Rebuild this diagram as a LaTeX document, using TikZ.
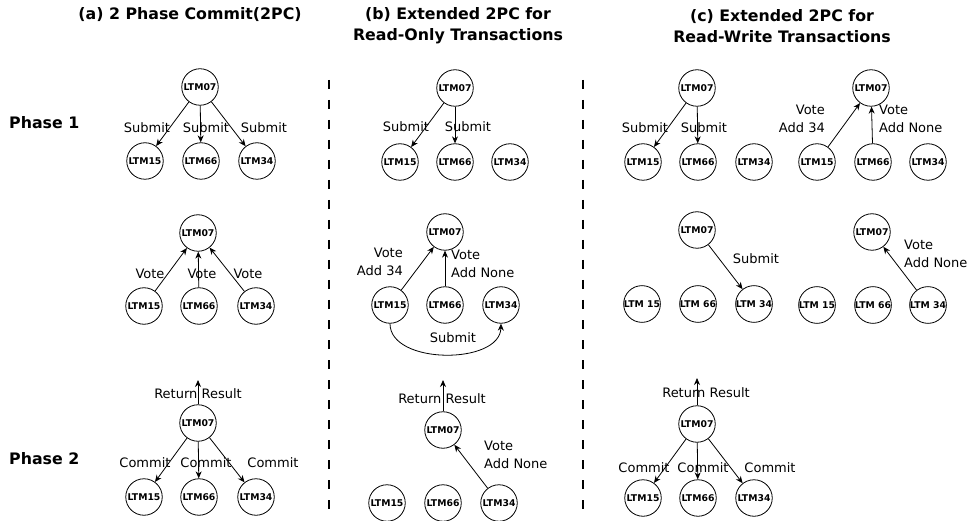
\documentclass[tikz,border=0pt]{standalone}
\usepackage{fontspec}
\setmainfont{DejaVu Sans}
\usetikzlibrary{arrows.meta}
\tikzset{
  ltm/.style={circle, draw, line width=0.8pt, minimum size=36.5pt, inner sep=0pt, font=\fontsize{9.3}{10}\selectfont\bfseries},
  arr/.style={-{Stealth[length=7pt,width=6pt]}, line width=0.8pt},
  lbl/.style={inner sep=0pt, font=\fontsize{13}{18}\selectfont},
  ttl/.style={inner sep=0pt, align=center, font=\fontsize{15.8}{21}\selectfont\bfseries},
  sep/.style={line width=2.2pt, dash pattern=on 9pt off 11pt}
}
\begin{document}
\begin{tikzpicture}[x=1pt,y=-1pt]
\useasboundingbox (0,0) rectangle (969,521);
% titles
\node[ttl] (ta) at (190,15) {(a) 2 Phase Commit(2PC)};
\node[ttl] (tb) at (458,26) {(b) Extended 2PC for\\Read-Only Transactions};
\node[ttl] (tc) at (782,26) {(c) Extended 2PC for\\Read-Write Transactions};
\node[ttl, anchor=west] (p1) at (9,123) {Phase 1};
\node[ttl, anchor=west] (p2) at (9,459) {Phase 2};
% separators
\coordinate (s1t) at (329,80); \coordinate (s1b) at (329,512);
\coordinate (s2t) at (583,80); \coordinate (s2b) at (583,512);
\draw[sep] (s1t) -- (s1b);
\draw[sep] (s2t) -- (s2b);

% ===== (a) row 1
\node[ltm] (a1t) at (200,87) {LTM07};
\node[ltm] (a1a) at (145,161) {LTM15};
\node[ltm] (a1b) at (201,161) {LTM66};
\node[ltm] (a1c) at (257,161) {LTM34};
\node[lbl] (a1la) at (147,128) {Submit};
\node[lbl] (a1lb) at (206,128) {Submit};
\node[lbl] (a1lc) at (264,128) {Submit};
\draw[arr] (a1t) -- (a1a);
\draw[arr] (a1t) -- (a1b);
\draw[arr] (a1t) -- (a1c);
% ===== (a) row 2
\node[ltm] (a2t) at (198,233) {LTM07};
\node[ltm] (a2a) at (144,306) {LTM15};
\node[ltm] (a2b) at (199,306) {LTM66};
\node[ltm] (a2c) at (256,306) {LTM34};
\node[lbl] (a2la) at (150,274) {Vote};
\node[lbl] (a2lb) at (202,274) {Vote};
\node[lbl] (a2lc) at (248,274) {Vote};
\draw[arr] (a2a) -- (a2t);
\draw[arr] (a2b) -- (a2t);
\draw[arr] (a2c) -- (a2t);
% ===== (a) row 3
\node[ltm] (a3t) at (198,423) {LTM07};
\node[ltm] (a3a) at (144,497) {LTM15};
\node[ltm] (a3b) at (199,497) {LTM66};
\node[ltm] (a3c) at (256,497) {LTM34};
\coordinate (a3up) at (198,380);
\node[lbl] (a3r) at (198,394) {Return Result};
\node[lbl] (a3la) at (145,463) {Commit};
\node[lbl] (a3lb) at (206,463) {Commit};
\node[lbl] (a3lc) at (273,463) {Commit};
\draw[arr] (a3t) -- (a3up);
\draw[arr] (a3t) -- (a3a);
\draw[arr] (a3t) -- (a3b);
\draw[arr] (a3t) -- (a3c);

% ===== (b) row 1
\node[ltm] (b1t) at (455,88) {LTM07};
\node[ltm] (b1a) at (400,162) {LTM15};
\node[ltm] (b1b) at (455,162) {LTM66};
\node[ltm] (b1c) at (510,162) {LTM34};
\node[lbl] (b1la) at (406,127) {Submit};
\node[lbl] (b1lb) at (468,127) {Submit};
\draw[arr] (b1t) -- (b1a);
\draw[arr] (b1t) -- (b1b);
% ===== (b) row 2
\node[ltm] (b2t) at (445,232) {LTM07};
\node[ltm] (b2a) at (390,305) {LTM15};
\node[ltm] (b2b) at (445,305) {LTM66};
\node[ltm] (b2c) at (501,305) {LTM34};
\node[lbl, align=right, anchor=east] (b2la) at (403,262) {Vote\\Add 34};
\node[lbl, align=left, anchor=west] (b2lb) at (451,264) {Vote\\Add None};
\node[lbl] (b2lc) at (453,338) {Submit};
\draw[arr] (b2a) -- (b2t);
\draw[arr] (b2b) -- (b2t);
\draw[arr] (b2a.south) .. controls (390,365) and (500,365) .. (b2c.south);
% ===== (b) row 3
\node[ltm] (b3t) at (443,430) {LTM07};
\node[ltm] (b3a) at (387,503) {LTM15};
\node[ltm] (b3b) at (443,503) {LTM66};
\node[ltm] (b3c) at (499,503) {LTM34};
\coordinate (b3up) at (443,380);
\node[lbl] (b3r) at (442,399) {Return Result};
\node[lbl, align=left, anchor=west] (b3lv) at (484,455) {Vote\\Add None};
\draw[arr] (b3t) -- (b3up);
\draw[arr] (b3c) -- (b3t);

% ===== (c) row 1 left
\node[ltm] (c1t) at (697,88) {LTM07};
\node[ltm] (c1a) at (643,162) {LTM15};
\node[ltm] (c1b) at (698,162) {LTM66};
\node[ltm] (c1c) at (754,162) {LTM34};
\node[lbl] (c1la) at (645,128) {Submit};
\node[lbl] (c1lb) at (704,128) {Submit};
\draw[arr] (c1t) -- (c1a);
\draw[arr] (c1t) -- (c1b);
% ===== (c) row 1 right
\node[ltm] (d1t) at (871,88) {LTM07};
\node[ltm] (d1a) at (817,162) {LTM15};
\node[ltm] (d1b) at (873,162) {LTM66};
\node[ltm] (d1c) at (928,162) {LTM34};
\node[lbl, align=right, anchor=east] (d1la) at (825,119) {Vote\\Add 34};
\node[lbl, align=left, anchor=west] (d1lb) at (879,119) {Vote\\Add None};
\draw[arr] (d1a) -- (d1t);
\draw[arr] (d1b) -- (d1t);
% ===== (c) row 2 left
\node[ltm] (c2t) at (697,230) {LTM07};
\node[ltm] (c2a) at (642,304) {LTM 15};
\node[ltm] (c2b) at (698,304) {LTM 66};
\node[ltm] (c2c) at (754,304) {LTM 34};
\node[lbl] (c2l) at (756,259) {Submit};
\draw[arr] (c2t) -- (c2c);
% ===== (c) row 2 right
\node[ltm] (d2t) at (872,232) {LTM07};
\node[ltm] (d2a) at (817,305) {LTM 15};
\node[ltm] (d2b) at (873,305) {LTM 66};
\node[ltm] (d2c) at (928,305) {LTM 34};
\node[lbl, align=left, anchor=west] (d2l) at (904,254) {Vote\\Add None};
\draw[arr] (d2c) -- (d2t);
% ===== (c) row 3
\node[ltm] (c3t) at (697,424) {LTM07};
\node[ltm] (c3a) at (643,498) {LTM15};
\node[ltm] (c3b) at (698,498) {LTM66};
\node[ltm] (c3c) at (754,498) {LTM34};
\coordinate (c3up) at (697,378);
\node[lbl] (c3r) at (706,393) {Return Result};
\node[lbl] (c3la) at (644,468) {Commit};
\node[lbl] (c3lb) at (703,468) {Commit};
\node[lbl] (c3lc) at (770,468) {Commit};
\draw[arr] (c3t) -- (c3up);
\draw[arr] (c3t) -- (c3a);
\draw[arr] (c3t) -- (c3b);
\draw[arr] (c3t) -- (c3c);
\end{tikzpicture}
\end{document}
